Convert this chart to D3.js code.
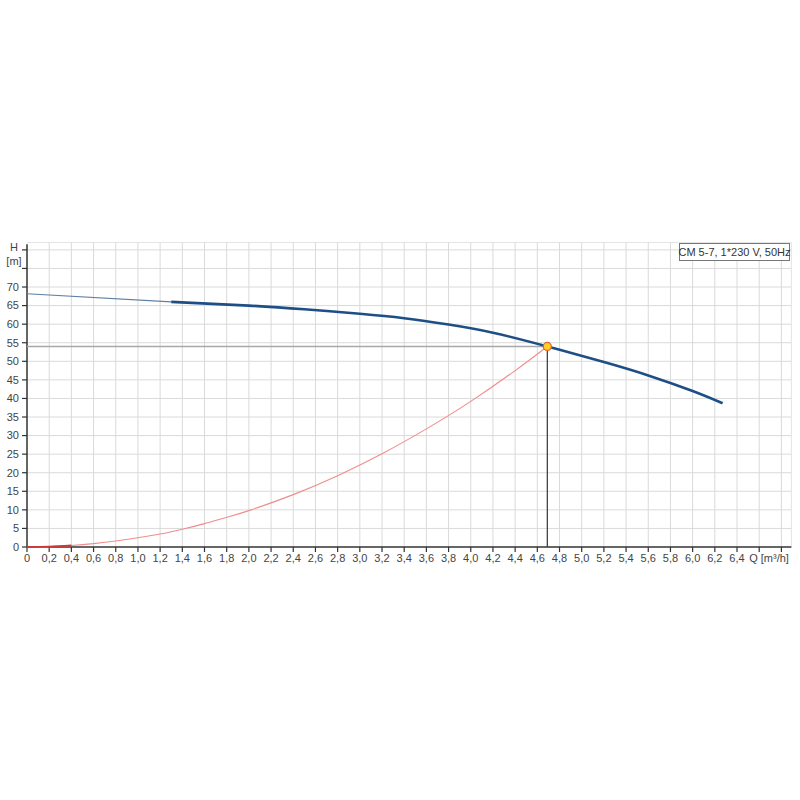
<!DOCTYPE html>
<html><head><meta charset="utf-8">
<script src="https://cdn.jsdelivr.net/npm/d3@7"></script>
<style>body{margin:0;background:#fff}svg{display:block}text{font-family:"Liberation Sans",Arial,sans-serif}</style>
</head><body>
<script>
// Data
const pumpQ = [0, 1.3, 2.0, 2.5, 3.0, 3.4, 3.8, 4.2, 4.69, 5.2, 5.6, 6.0, 6.27];
const pumpH = [68.2, 66.0, 65.0, 64.0, 62.8, 61.6, 59.9, 57.7, 54.0, 49.8, 46.2, 42.0, 38.7];
const pumpThinEnd = 1.3;
const sysQ = [0, 0.2, 0.4, 0.6, 0.8, 1.0, 1.2, 1.4, 1.6, 1.8, 2.0, 2.4, 2.8, 3.2, 3.6, 4.0, 4.4, 4.69];
const sysH = [0, 0.1, 0.4, 0.9, 1.6, 2.5, 3.5, 4.8, 6.3, 8.0, 9.8, 14.1, 19.2, 25.1, 31.8, 39.2, 47.5, 54.0];
const opQ = 4.69, opH = 54.0;
const xTicks = d3.range(0, 33).map(i => i * 0.2);       // 0 .. 6.4 labelled
const xGrid = d3.range(0, 35).map(i => i * 0.2);        // 0 .. 6.8
const yTicks = d3.range(0, 15).map(i => i * 5);         // 0 .. 70 labelled
const yGrid = d3.range(0, 17).map(i => i * 5);          // 0 .. 80
const legendText = "CM 5-7, 1*230 V, 50Hz";
const xUnit = "Q [m³/h]";
const yName = "H", yUnit = "[m]";

const W = 800, H = 800;
const svg = d3.select("body").append("svg").attr("width", W).attr("height", H);
const x = d3.scaleLinear().domain([0, 6.89]).range([27, 27 + 6.89 * 110.94]);
const y = d3.scaleLinear().domain([0, 82]).range([547, 547 - 82 * 3.714]);
const fmt = v => d3.format(".1f")(v).replace(".", ",");

// grid
const g = svg.append("g");
g.selectAll(".vg").data(xGrid.slice(1)).join("line")
  .attr("x1", d => x(d)).attr("x2", d => x(d)).attr("y1", y(0)).attr("y2", y(82))
  .attr("stroke", "#dadada").attr("stroke-width", 1);
g.selectAll(".hg").data(yGrid.slice(1)).join("line")
  .attr("x1", x(0)).attr("x2", x(6.89)).attr("y1", d => y(d)).attr("y2", d => y(d))
  .attr("stroke", "#dadada").attr("stroke-width", 1);
g.append("line").attr("x1", x(6.89)).attr("x2", x(6.89)).attr("y1", y(0)).attr("y2", y(82))
  .attr("stroke", "#e4e4e4");
g.append("line").attr("x1", x(0)).attr("x2", x(6.89)).attr("y1", y(82)).attr("y2", y(82))
  .attr("stroke", "#e4e4e4");

// axes
svg.append("line").attr("x1", x(0)).attr("x2", x(0)).attr("y1", y(0)).attr("y2", y(81.5))
  .attr("stroke", "#333").attr("stroke-width", 1.5);
svg.append("line").attr("x1", x(0)).attr("x2", x(6.89)).attr("y1", y(0)).attr("y2", y(0))
  .attr("stroke", "#333").attr("stroke-width", 1.5);
svg.selectAll(".yt").data(yGrid).join("line")
  .attr("x1", x(0) - 5).attr("x2", x(0)).attr("y1", d => y(d)).attr("y2", d => y(d))
  .attr("stroke", "#333").attr("stroke-width", 1.2);
svg.selectAll(".xt").data(xGrid).join("line")
  .attr("x1", d => x(d)).attr("x2", d => x(d)).attr("y1", y(0)).attr("y2", y(0) + 5)
  .attr("stroke", "#333").attr("stroke-width", 1.2);

svg.selectAll(".yl").data(yTicks).join("text")
  .attr("x", x(0) - 8).attr("y", d => y(d)).attr("dy", "0.35em")
  .attr("text-anchor", "end").attr("font-size", 11).attr("fill", "#444").text(d => d);
svg.append("text").attr("x", x(0) - 13).attr("y", y(80)).attr("dy", "0.1em")
  .attr("text-anchor", "middle").attr("font-size", 11).attr("fill", "#444").text(yName);
svg.append("text").attr("x", x(0) - 13).attr("y", y(75)).attr("dy", "-0.3em")
  .attr("text-anchor", "middle").attr("font-size", 11).attr("fill", "#444").text(yUnit);
svg.selectAll(".xl").data(xTicks).join("text")
  .attr("x", d => x(d)).attr("y", y(0) + 15)
  .attr("text-anchor", "middle").attr("font-size", 11).attr("fill", "#444")
  .text(d => d === 0 ? "0" : fmt(d));
svg.append("text").attr("x", x(6.6) - 10).attr("y", y(0) + 15)
  .attr("font-size", 11).attr("fill", "#444").text(xUnit);

// system curve
const line = d3.line().x(d => x(d[0])).y(d => y(d[1])).curve(d3.curveNatural);
const sysData = sysQ.map((q, i) => [q, sysH[i]]);
svg.append("path").datum(sysData).attr("d", line).attr("fill", "none")
  .attr("stroke", "#f08c8c").attr("stroke-width", 1.1);
svg.append("path").datum(sysData.filter(d => d[0] <= 0.4)).attr("d", line).attr("fill", "none")
  .attr("stroke", "#c83a3a").attr("stroke-width", 1.8);

// operating point guide lines
svg.append("line").attr("x1", x(0)).attr("x2", x(opQ)).attr("y1", y(opH)).attr("y2", y(opH))
  .attr("stroke", "#a8a8a8").attr("stroke-width", 1.5);
svg.append("line").attr("x1", x(opQ)).attr("x2", x(opQ)).attr("y1", y(opH)).attr("y2", y(0))
  .attr("stroke", "#333").attr("stroke-width", 1.2);

// pump curve
const pumpData = pumpQ.map((q, i) => [q, pumpH[i]]);
svg.append("path").datum(pumpData.filter(d => d[0] <= pumpThinEnd)).attr("d", line)
  .attr("fill", "none").attr("stroke", "#5f7fa3").attr("stroke-width", 1.1);
svg.append("path").datum(pumpData.filter(d => d[0] >= pumpThinEnd)).attr("d", line)
  .attr("fill", "none").attr("stroke", "#1d4f86").attr("stroke-width", 2.6);

// operating point
svg.append("circle").attr("cx", x(opQ)).attr("cy", y(opH)).attr("r", 4)
  .attr("fill", "#ffd21f").attr("stroke", "#e8602a").attr("stroke-width", 1.3);

// legend
const lg = svg.append("g");
lg.append("rect").attr("x", 679.5).attr("y", 243.5).attr("width", 110).attr("height", 17)
  .attr("fill", "#fff").attr("stroke", "#777").attr("stroke-width", 1);
lg.append("text").attr("x", 734.5).attr("y", 256).attr("text-anchor", "middle")
  .attr("font-size", 11).attr("fill", "#333").text(legendText);
</script>
</body></html>
